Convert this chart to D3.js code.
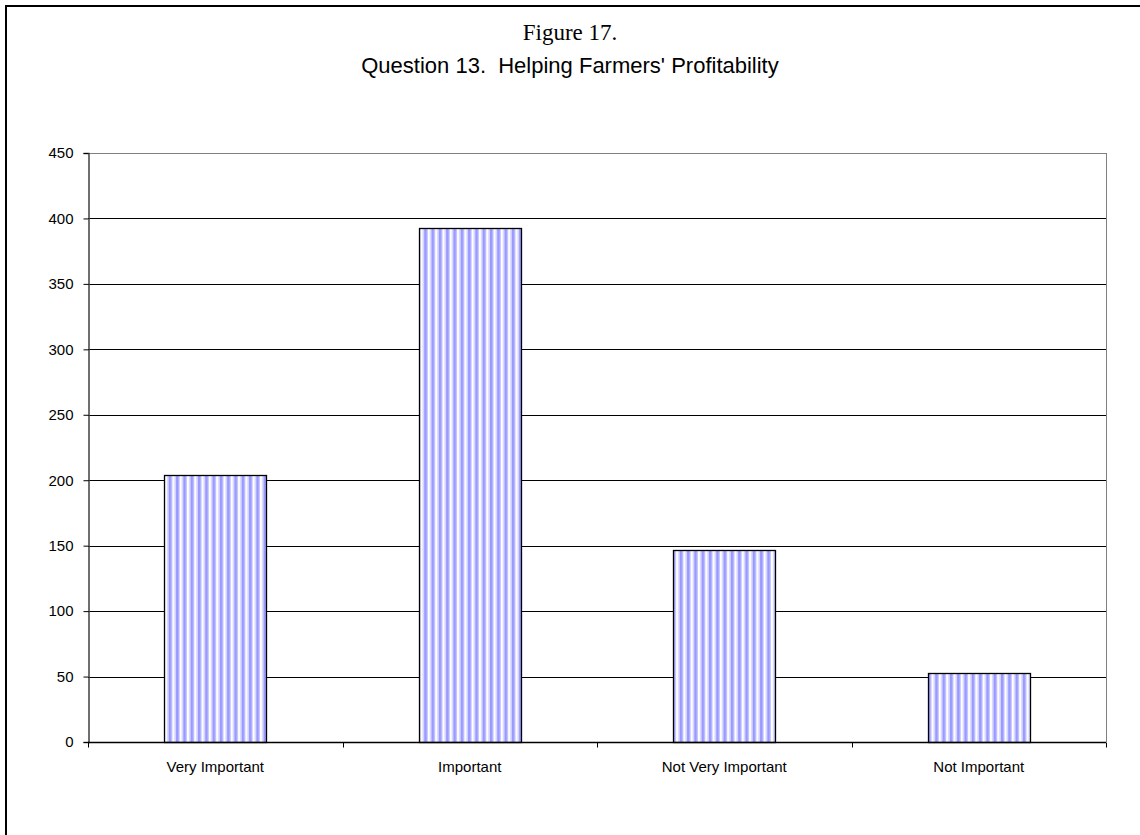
<!DOCTYPE html>
<html><head><meta charset="utf-8">
<script src="https://cdn.jsdelivr.net/npm/d3@7"></script>
<style>body{margin:0;background:#fff}svg{display:block}</style>
</head><body>
<script>
const categories = ["Very Important", "Important", "Not Very Important", "Not Important"];
const values = [204, 393, 147, 53];
const yTicks = [0, 50, 100, 150, 200, 250, 300, 350, 400, 450];
const figureLabel = "Figure 17.";
const chartTitle = "Question 13.  Helping Farmers' Profitability";

const W = 1140, H = 835;
const svg = d3.select("body").append("svg").attr("width", W).attr("height", H);

const defs = svg.append("defs");
const pat = defs.append("pattern").attr("id", "stripes").attr("patternUnits", "userSpaceOnUse")
  .attr("width", 7.3).attr("height", 10).attr("x", 0);
pat.append("rect").attr("width", 7.3).attr("height", 10).attr("fill", "#ffffff");
pat.append("rect").attr("x", 0.5).attr("width", 3).attr("height", 10).attr("fill", "#9999ff");
pat.append("rect").attr("x", 3.5).attr("width", 1).attr("height", 10).attr("fill", "#c8c8ff");
pat.append("rect").attr("x", 6.3).attr("width", 1).attr("height", 10).attr("fill", "#dcdcff");

// outer frame
svg.append("rect").attr("x", 6).attr("y", 6).attr("width", W + 10).attr("height", H + 10)
  .attr("fill", "none").attr("stroke", "#000").attr("stroke-width", 2);

const m = {l: 88, r: 1106, t: 153, b: 742};
const x = d3.scaleBand().domain(categories).range([m.l, m.r]).paddingInner(0.6).paddingOuter(0.3);
const y = d3.scaleLinear().domain([0, 450]).range([m.b, m.t]);
const font = "Liberation Sans, Arial, sans-serif";

// gridlines
svg.append("g").selectAll("line").data(yTicks.filter(d => d > 0)).join("line")
  .attr("x1", m.l).attr("x2", m.r).attr("y1", d => Math.round(y(d)) + 0.5).attr("y2", d => Math.round(y(d)) + 0.5)
  .attr("stroke", d => d === 450 ? "#808080" : "#000").attr("stroke-width", 1);

// right plot border
svg.append("line").attr("x1", m.r + 0.5).attr("x2", m.r + 0.5).attr("y1", m.t).attr("y2", m.b)
  .attr("stroke", "#808080");

// bars
svg.append("g").selectAll("rect").data(values).join("rect")
  .attr("x", (d, i) => Math.round(x(categories[i])) + 0.5)
  .attr("width", Math.round(x.bandwidth()))
  .attr("y", d => Math.round(y(d)) + 0.5)
  .attr("height", d => Math.round(y(0)) - Math.round(y(d)))
  .attr("fill", "url(#stripes)").attr("stroke", "#000").attr("stroke-width", 1.3);

// y axis
const yAxis = svg.append("g").attr("transform", `translate(${m.l + 0.5},0)`)
  .call(d3.axisLeft(y).tickValues(yTicks).tickSize(5).tickPadding(10));
yAxis.select(".domain").attr("stroke", "#404040").attr("stroke-width", 1.5);
yAxis.selectAll("line").attr("stroke", "#000");
yAxis.selectAll("text").attr("font-family", font).attr("font-size", 15).attr("fill", "#000");

// x axis
const xAxisG = svg.append("g").attr("transform", `translate(0,${Math.round(m.b) + 0.5})`);
xAxisG.append("line").attr("x1", m.l).attr("x2", m.r).attr("stroke", "#000").attr("stroke-width", 1.5);
const bounds = d3.range(categories.length + 1).map(i => m.l + (m.r - m.l) * i / categories.length);
xAxisG.selectAll("line.tk").data(bounds).join("line").attr("class", "tk")
  .attr("x1", d => Math.round(d) + 0.5).attr("x2", d => Math.round(d) + 0.5).attr("y1", 0).attr("y2", 5)
  .attr("stroke", "#000");
xAxisG.selectAll("text").data(categories).join("text")
  .attr("x", d => x(d) + x.bandwidth() / 2).attr("y", 29)
  .attr("text-anchor", "middle").attr("font-family", font)
  .attr("font-size", 15).attr("fill", "#000").text(d => d);

// titles
svg.append("text").attr("x", 570).attr("y", 40).attr("text-anchor", "middle")
  .attr("font-family", "Liberation Serif, Times New Roman, serif").attr("font-size", 23).text(figureLabel);
svg.append("text").attr("x", 570).attr("y", 73).attr("text-anchor", "middle")
  .style("white-space", "pre")
  .attr("font-family", font).attr("font-size", 22).text(chartTitle);
</script>
</body></html>
